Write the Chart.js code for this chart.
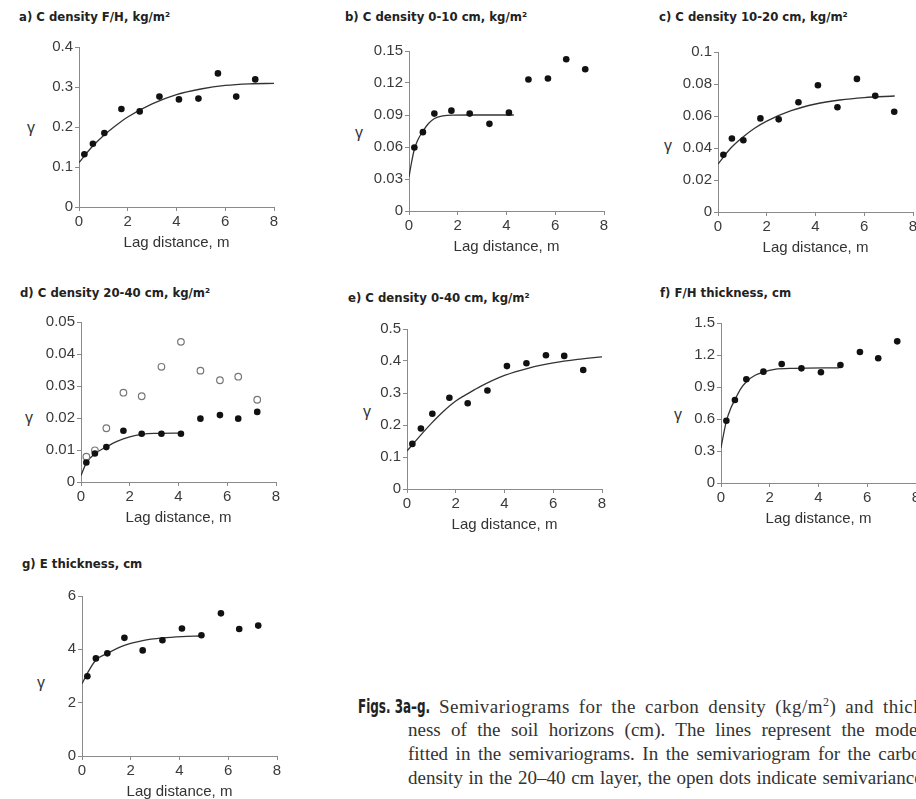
<!DOCTYPE html>
<html>
<head>
<meta charset="utf-8">
<script src="https://cdn.jsdelivr.net/npm/chart.js@4.4.0/dist/chart.umd.min.js"></script>
<style>
  html, body { margin: 0; padding: 0; background: #fff; }
  body { width: 916px; height: 799px; overflow: hidden; position: relative; color: #333; font-family: 'Liberation Sans', Arial, sans-serif; }
  canvas.panel { position: absolute; }
  .title { position: absolute; font-family: 'Liberation Sans Narrow', 'DejaVu Sans Condensed', sans-serif; font-weight: bold; font-size: 13px; line-height: 14px; color: #222; white-space: nowrap; }
  .gamma { position: absolute; font-size: 16px; line-height: 16px; color: #333; transform: translate(-50%, -50%); }
  .cl { position: absolute; font-family: 'Liberation Serif', 'Times New Roman', serif; font-size: 19px; line-height: 24px; color: #333; text-align: justify; text-align-last: justify; }
  .cl sup { font-size: 12px; line-height: 0; }
  .cl.first { letter-spacing: 0.45px; }
  .figs { display: inline-block; width: 72px; overflow: visible; white-space: nowrap; vertical-align: baseline; letter-spacing: 0; }
  .figs span { display: inline-block; transform: scaleX(0.7); transform-origin: left center; font-family: 'Liberation Sans Narrow', 'DejaVu Sans Condensed', sans-serif; font-weight: bold; font-size: 19px; color: #222; }
</style>
</head>
<body>

<div class="title" style="left:19px; top:10px">a) C density F/H, kg/m²</div>
<div class="title" style="left:345px; top:10px">b) C density 0-10 cm, kg/m²</div>
<div class="title" style="left:659px; top:10px">c) C density 10-20 cm, kg/m²</div>
<div class="title" style="left:20px; top:286px">d) C density 20-40 cm, kg/m²</div>
<div class="title" style="left:348px; top:291px">e) C density 0-40 cm, kg/m²</div>
<div class="title" style="left:660px; top:286px">f) F/H thickness, cm</div>
<div class="title" style="left:22px; top:557px">g) E thickness, cm</div>

<div class="gamma" style="left:31px; top:128px">γ</div>
<div class="gamma" style="left:359px; top:133px">γ</div>
<div class="gamma" style="left:668px; top:146px">γ</div>
<div class="gamma" style="left:29px; top:418px">γ</div>
<div class="gamma" style="left:367px; top:412px">γ</div>
<div class="gamma" style="left:678px; top:415px">γ</div>
<div class="gamma" style="left:41px; top:683px">γ</div>

<canvas id="chart-a" class="panel" width="265" height="217" style="left:19px; top:35px"></canvas>
<canvas id="chart-b" class="panel" width="265" height="217" style="left:349px; top:39px"></canvas>
<canvas id="chart-c" class="panel" width="265" height="217" style="left:658px; top:40px"></canvas>
<canvas id="chart-d" class="panel" width="265" height="217" style="left:21px; top:310px"></canvas>
<canvas id="chart-e" class="panel" width="265" height="217" style="left:347px; top:317px"></canvas>
<canvas id="chart-f" class="panel" width="265" height="217" style="left:661px; top:311px"></canvas>
<canvas id="chart-g" class="panel" width="265" height="217" style="left:22px; top:584px"></canvas>

<div class="cl first" style="left:358px; top:694px; width:572px"><span class="figs"><span>Figs. 3a–g.</span></span> Semivariograms for the carbon density (kg/m<sup>2</sup>) and thick-</div>
<div class="cl" style="left:408px; top:718px; width:522px">ness of the soil horizons (cm). The lines represent the models</div>
<div class="cl" style="left:408px; top:742px; width:522px">fitted in the semivariograms. In the semivariogram for the carbon</div>
<div class="cl" style="left:408px; top:766px; width:522px">density in the 20–40 cm layer, the open dots indicate semivariances</div>

<script>
const fontFamily = "'Liberation Sans', Arial, sans-serif";

// lag classes shared by all panels
const lags = [0.22, 0.57, 1.04, 1.74, 2.49, 3.3, 4.1, 4.9, 5.7, 6.45, 7.23];
const xTicks = [0, 2, 4, 6, 8];

// a) C density F/H
const gammaA = [0.132, 0.158, 0.185, 0.245, 0.239, 0.276, 0.269, 0.271, 0.334, 0.276, 0.319];
const modelXA = [0, 0.5, 1, 1.5, 2, 3, 4, 5, 6, 7, 8];
const modelYA = [0.111, 0.148, 0.178, 0.203, 0.225, 0.258, 0.281, 0.295, 0.304, 0.308, 0.309];
const yTicksA = [0, 0.1, 0.2, 0.3, 0.4];

// b) C density 0-10 cm
const gammaB = [0.0596, 0.0739, 0.0913, 0.0941, 0.0913, 0.0817, 0.0922, 0.1233, 0.1242, 0.1422, 0.1329];
const modelXB = [0, 0.1, 0.2, 0.35, 0.56, 0.8, 1.03, 1.4, 1.8, 2.5, 4.3];
const modelYB = [0.032, 0.045, 0.056, 0.066, 0.0745, 0.082, 0.0865, 0.0892, 0.0899, 0.09, 0.09];
const yTicksB = [0, 0.03, 0.06, 0.09, 0.12, 0.15];

// c) C density 10-20 cm
const gammaC = [0.0358, 0.0459, 0.0448, 0.0585, 0.0579, 0.0686, 0.0792, 0.0655, 0.0832, 0.0726, 0.0627];
const modelXC = [0, 0.5, 1, 1.5, 2, 3, 4, 5, 6, 7.25];
const modelYC = [0.030, 0.0395, 0.0465, 0.0523, 0.0568, 0.0633, 0.0675, 0.07, 0.0715, 0.0725];
const yTicksC = [0, 0.02, 0.04, 0.06, 0.08, 0.1];

// d) C density 20-40 cm (filled and open dots)
const gammaD = [0.0061, 0.0089, 0.0109, 0.016, 0.0151, 0.0151, 0.0151, 0.0198, 0.0209, 0.0198, 0.0219];
const gammaDOpen = [0.0079, 0.0099, 0.0168, 0.0279, 0.0268, 0.036, 0.0438, 0.0348, 0.0318, 0.0329, 0.0257];
const modelXD = [0, 0.22, 0.57, 1.04, 1.5, 2, 2.5, 3, 4.15];
const modelYD = [0.002, 0.006, 0.0088, 0.011, 0.0128, 0.0141, 0.0149, 0.0152, 0.0153];
const yTicksD = [0, 0.01, 0.02, 0.03, 0.04, 0.05];

// e) C density 0-40 cm
const gammaE = [0.141, 0.189, 0.235, 0.285, 0.268, 0.308, 0.384, 0.393, 0.418, 0.416, 0.372];
const modelXE = [0, 0.5, 1, 1.5, 2, 2.5, 3, 4, 5, 6, 7, 8];
const modelYE = [0.119, 0.163, 0.205, 0.243, 0.275, 0.298, 0.32, 0.355, 0.378, 0.394, 0.405, 0.413];
const yTicksE = [0, 0.1, 0.2, 0.3, 0.4, 0.5];

// f) F/H thickness
const gammaF = [0.584, 0.778, 0.972, 1.044, 1.116, 1.075, 1.038, 1.106, 1.228, 1.169, 1.328];
const modelXF = [0, 0.1, 0.22, 0.4, 0.57, 0.8, 1.04, 1.4, 1.74, 2.2, 3, 4.85];
const modelYF = [0.33, 0.45, 0.58, 0.7, 0.78, 0.88, 0.95, 1.01, 1.04, 1.065, 1.075, 1.08];
const yTicksF = [0, 0.3, 0.6, 0.9, 1.2, 1.5];

// g) E thickness
const gammaG = [2.99, 3.66, 3.85, 4.43, 3.96, 4.34, 4.78, 4.53, 5.35, 4.76, 4.89];
const modelXG = [0, 0.22, 0.57, 1.04, 1.74, 2.49, 3.3, 4.1, 4.85];
const modelYG = [2.71, 3.1, 3.6, 3.85, 4.15, 4.33, 4.43, 4.48, 4.5];
const yTicksG = [0, 2, 4, 6];

function pairs(xs, ys) {
  return xs.map((x, i) => ({ x, y: ys[i] }));
}

function dots(values, open) {
  return {
    type: 'scatter',
    data: pairs(lags, values),
    pointRadius: 3.3,
    pointHoverRadius: 3.3,
    pointBackgroundColor: open ? '#fff' : '#111',
    pointBorderColor: open ? '#777' : '#111',
    pointBorderWidth: open ? 1.2 : 0,
    showLine: false,
  };
}

function axis(ticksList, fit, title) {
  return {
    type: 'linear',
    min: ticksList[0],
    max: ticksList[ticksList.length - 1],
    afterBuildTicks: (scale) => {
      scale.ticks = ticksList.map((v) => ({ value: v }));
    },
    afterFit: fit,
    border: { display: true, color: '#8a8a8a', width: 1 },
    grid: { display: true, drawOnChartArea: false, drawTicks: true, tickLength: 4, color: '#8a8a8a' },
    ticks: {
      color: '#3a3a3a',
      font: { family: fontFamily, size: 15 },
      padding: 2,
      maxRotation: 0,
      autoSkip: false,
      callback: (v) => String(v),
    },
    title: title
      ? { display: true, text: title, color: '#333', font: { family: fontFamily, size: 15 }, padding: 0 }
      : { display: false },
  };
}

function makePanel(canvasId, series, modelX, modelY, yTicks) {
  const canvas = document.getElementById(canvasId);
  const datasets = series.map((s) => dots(s.values, s.open));

  datasets.push({
    type: 'line',
    data: pairs(modelX, modelY),
    borderColor: '#333',
    borderWidth: 1.3,
    pointRadius: 0,
    fill: false,
    cubicInterpolationMode: 'monotone',
  });

  return new Chart(canvas, {
    type: 'scatter',
    data: { datasets },
    options: {
      responsive: false,
      animation: false,
      devicePixelRatio: 1,
      layout: { padding: { left: 0, top: 12, right: 10, bottom: 0 } },
      plugins: { legend: { display: false }, tooltip: { enabled: false } },
      scales: {
        x: axis(xTicks, (s) => { s.height = 45; }, 'Lag distance, m'),
        y: axis(yTicks, (s) => { s.width = 60; }, null),
      },
    },
  });
}

makePanel('chart-a', [{ values: gammaA }], modelXA, modelYA, yTicksA);
makePanel('chart-b', [{ values: gammaB }], modelXB, modelYB, yTicksB);
makePanel('chart-c', [{ values: gammaC }], modelXC, modelYC, yTicksC);
makePanel('chart-d', [{ values: gammaD }, { values: gammaDOpen, open: true }], modelXD, modelYD, yTicksD);
makePanel('chart-e', [{ values: gammaE }], modelXE, modelYE, yTicksE);
makePanel('chart-f', [{ values: gammaF }], modelXF, modelYF, yTicksF);
makePanel('chart-g', [{ values: gammaG }], modelXG, modelYG, yTicksG);
</script>
</body>
</html>
